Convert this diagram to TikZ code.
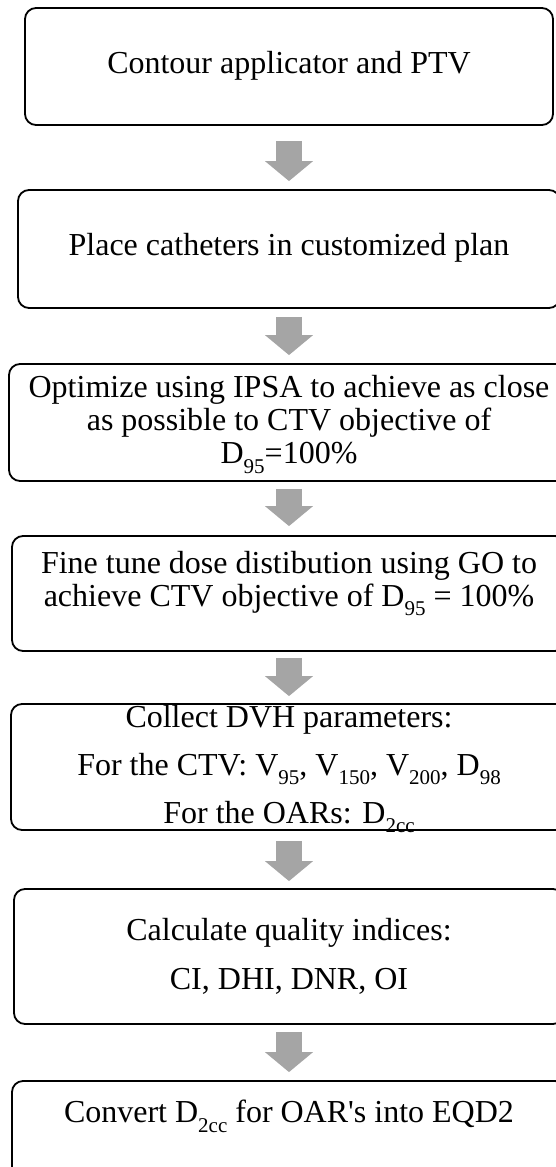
\documentclass[tikz,border=0pt]{standalone}
\usepackage{fontspec}
\setmainfont{Liberation Serif}
\usetikzlibrary{arrows.meta}
\definecolor{flowgray}{RGB}{165,165,165}
\newcommand{\lowsub}[1]{\raisebox{-0.3em}{\fontsize{21}{21}\selectfont #1}}

\begin{document}
\begin{tikzpicture}[x=1pt,y=-1pt,
		stepbox/.style={draw,line width=1.8pt,rounded corners=11pt},
		steptext/.style={align=center,font=\fontsize{32}{33}\selectfont,inner sep=0pt},
		flow/.style={draw=flowgray,line width=26pt,-{Triangle[length=20pt,width=47pt]}}]
			\useasboundingbox (0,0) rectangle (556,1167);
			\clip (0,0) rectangle (556,1167);
			
			\node[stepbox,minimum width=528pt,minimum height=117pt] (b1) at (289,66.5) {};
			\node[stepbox,minimum width=542pt,minimum height=118pt] (b2) at (289,249) {};
			\node[stepbox,minimum width=560pt,minimum height=117pt] (b3) at (289,422.5) {};
			\node[stepbox,minimum width=554pt,minimum height=115pt] (b4) at (289,593.5) {};
			\node[stepbox,minimum width=556pt,minimum height=126pt] (b5) at (289,767) {};
			\node[stepbox,minimum width=550pt,minimum height=135pt] (b6) at (289,956.5) {};
			\node[stepbox,minimum width=554pt,minimum height=119pt] (b7) at (289,1140.5) {};
			
			\node[steptext] (t1) at ([yshift=1pt]b1.center) {Contour applicator and PTV};
			\node[steptext] (t2) at ([yshift=1pt]b2.center) {Place catheters in customized plan};
			\node[steptext] (t3) at ([yshift=-2pt]b3.center) {Optimize using IPSA to achieve as close\\ as possible to CTV objective of\\ D\lowsub{95}=100\%};
			\node[steptext] (t4) at ([yshift=10pt]b4.center) {Fine tune dose distibution using GO to\\ achieve CTV objective of D\lowsub{95} = 100\%};
			\node[steptext] (t5) at ([yshift=-2pt]b5.center) {Collect DVH parameters:\\[15pt] For the CTV: V\lowsub{95}, V\lowsub{150}, V\lowsub{200}, D\lowsub{98}\\[15pt] For the OARs: D\lowsub{2cc}};
			\node[steptext] (t6) at (b6.center) {Calculate quality indices:\\[16pt] CI, DHI, DNR, OI};
			\node[steptext] (t7) at ([yshift=-36pt]b7.north) {Convert D\lowsub{2cc} for OAR\textquotesingle s into EQD2};
			
			\draw[flow,shorten <=15pt,shorten >=8pt] (b1) -- (b2);
			\draw[flow,shorten <=8pt,shorten >=8pt] (b2) -- (b3);
			\draw[flow,shorten <=7pt,shorten >=9pt] (b3) -- (b4);
			\draw[flow,shorten <=6pt,shorten >=7pt] (b4) -- (b5);
			\draw[flow,shorten <=10pt,shorten >=7pt] (b5) -- (b6);
			\draw[flow,shorten <=7pt,shorten >=8pt] (b6) -- (b7);
		\end{tikzpicture}
\end{document}
